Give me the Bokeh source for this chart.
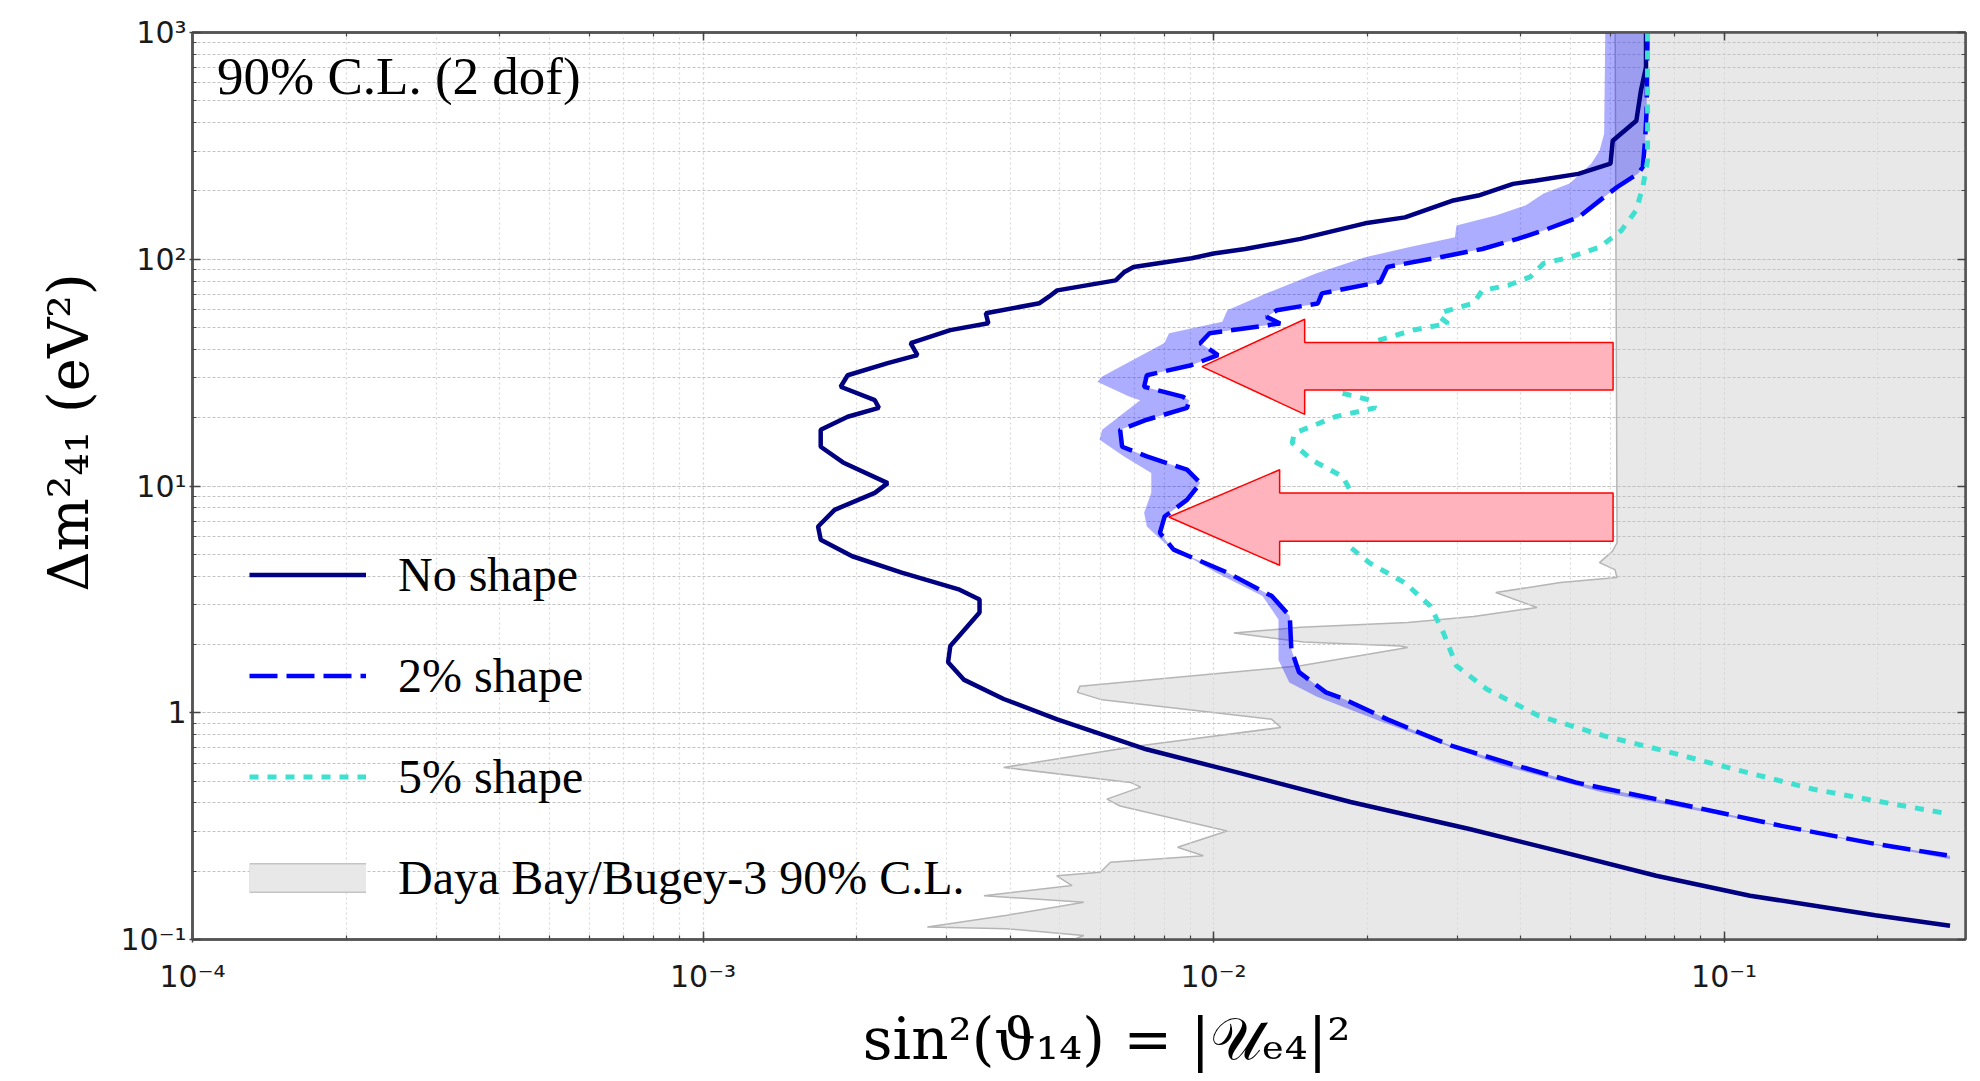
import math
from bokeh.plotting import figure
from bokeh.models import (Range1d, LogAxis, LogTicker, Legend, LegendItem, Label,
                          CustomJSTickFormatter)
from bokeh.embed import file_html
from bokeh.resources import INLINE

# ---------------- data ----------------
# "No shape" exclusion contour: sin^2(theta14) vs Delta m^2_41 [eV^2]
no_shape_x = [0.0703, 0.0703, 0.0687, 0.0673, 0.0605, 0.0599, 0.0518, 0.0426, 0.0386, 0.0330,
              0.0293, 0.0237, 0.0198, 0.0148, 0.01153, 0.0100, 0.00906, 0.00697, 0.00669, 0.00643,
              0.00494, 0.00475, 0.00456, 0.00358, 0.00362, 0.00305, 0.00255, 0.00263, 0.00230, 0.00192,
              0.00186, 0.00217, 0.00221, 0.00192, 0.00170, 0.00170, 0.00188, 0.00230, 0.00217, 0.00181,
              0.00168, 0.00170, 0.00196, 0.00245, 0.00318, 0.00348, 0.00348, 0.00305, 0.00302, 0.00324,
              0.00388, 0.00494, 0.00738, 0.01107, 0.01855, 0.0317, 0.0483, 0.0736, 0.1124, 0.1977, 0.277]
no_shape_y = [1000, 702, 553, 408, 333, 264, 238, 222, 215, 191,
              181, 153, 144, 123, 111, 106, 101, 92.5, 87.9, 80.7,
              72.9, 68.2, 64.0, 57.8, 52.2, 48.7, 42.7, 37.8, 34.8, 30.8,
              27.4, 23.9, 22.1, 20.2, 17.7, 14.9, 12.7, 10.3, 9.33, 7.85,
              6.63, 5.80, 4.90, 4.15, 3.49, 3.16, 2.77, 1.97, 1.67, 1.40,
              1.15, 0.935, 0.690, 0.547, 0.404, 0.307, 0.243, 0.191, 0.156, 0.128, 0.115]

# "2% shape" contour
shape2_x = [0.0708, 0.0705, 0.0700, 0.0693, 0.0679, 0.0617, 0.0582, 0.0518, 0.0443, 0.0394,
            0.0336, 0.0277, 0.0219, 0.0212, 0.0163, 0.0160, 0.0133, 0.0127, 0.0135, 0.00982,
            0.00942, 0.0102, 0.00904, 0.0074, 0.00731, 0.00869, 0.00896, 0.00887, 0.0074, 0.00656,
            0.00662, 0.0074, 0.00887, 0.00942, 0.00887, 0.00802, 0.00785, 0.00835, 0.01064, 0.0130,
            0.0141, 0.0142, 0.0147, 0.0166, 0.0180, 0.0219, 0.0293, 0.0394, 0.0512, 0.0849,
            0.1295, 0.1977, 0.277]
shape2_y = [1000, 452, 333, 255, 239, 208, 188, 153, 134, 123,
            111, 102, 92.5, 79.4, 70.7, 63.8, 59.6, 55.7, 52.1, 47.2,
            42.7, 37.8, 34.1, 30.8, 27.4, 24.8, 23.9, 22.1, 19.6, 17.7,
            14.9, 13.5, 11.8, 10.3, 8.69, 7.34, 6.21, 5.24, 4.15, 3.27,
            2.67, 1.90, 1.51, 1.23, 1.15, 0.935, 0.714, 0.583, 0.493, 0.389,
            0.317, 0.264, 0.234]

# left edge of the shaded band that accompanies the "2% shape" contour
band_left_x = [0.0585, 0.0582, 0.0570, 0.0549, 0.0498, 0.0443, 0.0409, 0.0357, 0.0299, 0.0297,
               0.0241, 0.0198, 0.0159, 0.0127, 0.01064, 0.0104, 0.00818, 0.00801, 0.00605, 0.00592,
               0.00683, 0.00718, 0.00605, 0.00598, 0.00668, 0.00755, 0.00755, 0.00731, 0.0074, 0.00802,
               0.0101, 0.01247, 0.0134, 0.0134, 0.01407, 0.0159, 0.0212, 0.0365, 0.0573, 0.277]
band_left_y = [1000, 358, 301, 264, 216, 195, 173, 156, 141, 125,
               113, 102, 86.7, 70.8, 59.6, 53.0, 47.2, 42.7, 30.4, 28.8,
               24.8, 23.9, 17.7, 16.0, 13.5, 11.4, 9.33, 7.62, 6.63, 5.61,
               4.15, 3.27, 2.58, 1.71, 1.36, 1.18, 0.918, 0.587, 0.447, 0.226]

# "5% shape" contour
shape5_x = [0.0708, 0.0708, 0.0693, 0.0672, 0.0629, 0.0570, 0.0498, 0.0443, 0.0417, 0.0378,
            0.0336, 0.0323, 0.0282, 0.0277, 0.0288, 0.0246, 0.0206, 0.01716, 0.01746, 0.0203,
            0.0207, 0.0173, 0.0144, 0.01425, 0.0156, 0.0179, 0.0185, 0.0181, 0.0202, 0.0237,
            0.0266, 0.0282, 0.0299, 0.0343, 0.0434, 0.0582, 0.0780, 0.1045, 0.149, 0.1977, 0.277]
shape5_y = [1000, 272, 208, 164, 134, 113, 102, 95.9, 83.6, 76.8,
            72.9, 64.0, 58.6, 55.7, 52.1, 48.7, 43.3, 31.8, 26.0, 23.9,
            22.1, 20.2, 17.1, 15.5, 13.0, 11.0, 9.60, 5.61, 4.58, 3.74,
            2.95, 2.25, 1.61, 1.27, 0.968, 0.791, 0.671, 0.564, 0.461, 0.409, 0.357]

# Daya Bay / Bugey-3 90% C.L. excluded region (left boundary, top to bottom)
bugey_x = [0.0611, 0.0617, 0.0604, 0.0570, 0.0611, 0.0617, 0.0478, 0.0357, 0.0430, 0.0323,
           0.0240, 0.0148, 0.01096, 0.0150, 0.0232, 0.0240, 0.0148, 0.00547, 0.00541, 0.00605,
           0.0130, 0.01354, 0.00711, 0.00388, 0.00687, 0.0072, 0.00618, 0.00656, 0.01063, 0.0085,
           0.00955, 0.00628, 0.0060, 0.00493, 0.00528, 0.00355, 0.00557, 0.00394, 0.00275, 0.00394,
           0.00557, 0.00501, 2.0, 2.0]
bugey_y = [2000, 5.62, 5.15, 4.59, 4.28, 3.95, 3.75, 3.39, 2.91, 2.66,
           2.50, 2.38, 2.25, 2.05, 1.97, 1.94, 1.61, 1.31, 1.23, 1.14,
           0.935, 0.861, 0.714, 0.574, 0.493, 0.470, 0.416, 0.388, 0.301, 0.255,
           0.234, 0.219, 0.198, 0.191, 0.173, 0.156, 0.146, 0.128, 0.1135, 0.1115,
           0.1042, 0.095, 0.095, 2000]

# highlight arrows (data coordinates)
arrow_tip_x = [0.00949, 0.00817]
arrow_head_x = [0.01508, 0.01347]
arrow_tail_x = [0.0606, 0.0606]
arrow_y = [33.6, 7.30]
arrow_head_top = [54.4, 11.8]
arrow_head_bottom = [20.7, 4.47]
arrow_shaft_top = [42.9, 9.31]
arrow_shaft_bottom = [26.5, 5.70]

# tick labels
x_tick_exps = [-4, -3, -2, -1]
x_tick_labels = ["10\u207b\u2074", "10\u207b\u00b3", "10\u207b\u00b2", "10\u207b\u00b9"]
y_tick_exps = [-1, 0, 1, 2, 3]
y_tick_labels = ["10\u207b\u00b9", "1", "10\u00b9", "10\u00b2", "10\u00b3"]

# ---------------- figure ----------------
p = figure(width=1970, height=1075, x_axis_type="log", y_axis_type="log",
           x_range=Range1d(1e-4, 0.297), y_range=Range1d(0.1, 1000),
           output_backend="svg", toolbar_location=None,
           min_border_left=192, min_border_right=5, min_border_top=32, min_border_bottom=134)
p.background_fill_color = "white"
p.border_fill_color = "white"
p.outline_line_color = "#555555"
p.outline_line_width = 2.5

# grids
for g, col, dash in ((p.xgrid, "#dadada", "2 3"), (p.ygrid, "#c2c2c2", "3 2")):
    g.grid_line_color = col
    g.grid_line_dash = dash
    g.grid_line_width = 1.2
    g.minor_grid_line_color = col
    g.minor_grid_line_dash = dash
    g.minor_grid_line_width = 1.2

# excluded region (below grid)
p.patch(bugey_x, bugey_y, fill_color="#e8e8e8", line_color="#b5b5b5", line_width=1.5, level="image")

# band
band_x = band_left_x + shape2_x[::-1]
band_y = band_left_y + shape2_y[::-1]
p.patch(band_x, band_y, fill_color="#0000ff", fill_alpha=0.32, line_color=None)

r_solid = p.line(no_shape_x, no_shape_y, line_color="#000080", line_width=4.5)
r_dash = p.line(shape2_x, shape2_y, line_color="#0000ff", line_width=4.5, line_dash="28 9")
r_dot = p.line(shape5_x, shape5_y, line_color="#40e0d0", line_width=5, line_dash="9 9")

# arrows
axs, ays = [], []
for i in range(len(arrow_tip_x)):
    axs.append([arrow_tip_x[i], arrow_head_x[i], arrow_head_x[i], arrow_tail_x[i],
                arrow_tail_x[i], arrow_head_x[i], arrow_head_x[i]])
    ays.append([arrow_y[i], arrow_head_top[i], arrow_shaft_top[i], arrow_shaft_top[i],
                arrow_shaft_bottom[i], arrow_shaft_bottom[i], arrow_head_bottom[i]])
p.patches(axs, ays, fill_color="#ffb3bd", line_color="#ff0000", line_width=1.5)

# legend helper renderers for the grey box (placed outside the visible range)
r_box_edge = p.line([1e-8, 2e-8], [1e-8, 1e-8], line_color="#c4c4c4", line_width=30)
r_box_fill = p.line([1e-8, 2e-8], [1e-8, 1e-8], line_color="#e8e8e8", line_width=27)

legend = Legend(items=[LegendItem(label="No shape", renderers=[r_solid]),
                       LegendItem(label="2% shape", renderers=[r_dash]),
                       LegendItem(label="5% shape", renderers=[r_dot]),
                       LegendItem(label="Daya Bay/Bugey-3 90% C.L.", renderers=[r_box_edge, r_box_fill])],
                location=(57, 11.5), glyph_width=117, glyph_height=101, spacing=0,
                padding=0, margin=0, label_standoff=32,
                label_text_font="Liberation Serif", label_text_font_size="48px",
                label_text_color="black", border_line_color=None, background_fill_alpha=0)
p.add_layout(legend)

p.add_layout(Label(x=1.117e-4, y=644, text="90% C.L. (2 dof)", text_font="Liberation Serif",
                   text_font_size="53px", text_color="black", text_baseline="alphabetic"))

# axes
fmt_code = "const e = Math.round(Math.log10(tick)); const i = exps.indexOf(e); return i >= 0 ? labels[i] : '';"
p.xaxis.formatter = CustomJSTickFormatter(args=dict(exps=x_tick_exps, labels=x_tick_labels), code=fmt_code)
p.yaxis.formatter = CustomJSTickFormatter(args=dict(exps=y_tick_exps, labels=y_tick_labels), code=fmt_code)

for ax in (p.xaxis[0], p.yaxis[0]):
    ax.axis_line_color = "#555555"
    ax.axis_line_width = 2.5
    ax.major_tick_line_color = "#444444"
    ax.major_tick_line_width = 1.5
    ax.minor_tick_line_color = "#444444"
    ax.minor_tick_line_width = 1.2
    ax.major_tick_in = 8
    ax.major_tick_out = 3
    ax.minor_tick_in = 4
    ax.minor_tick_out = 0
    ax.major_label_text_font = "DejaVu Sans"
    ax.major_label_text_font_size = "30px"
    ax.major_label_text_color = "#1a1a1a"
    ax.axis_label_text_font = "DejaVu Serif"
    ax.axis_label_text_font_style = "normal"
    ax.axis_label_text_color = "black"

p.xaxis.axis_label_text_font_size = "58px"
p.yaxis.axis_label_text_font_size = "56px"
p.xaxis.major_label_standoff = 16
p.yaxis.major_label_standoff = 3
p.xaxis.axis_label_standoff = 8
p.yaxis.axis_label_standoff = 16
NB = "\u00a0"
p.xaxis.axis_label = NB * 3 + "sin\u00b2(\u03d1\u2081\u2084) = |\U0001d4b0\u2091\u2084|\u00b2"
p.yaxis.axis_label = NB * 6 + "\u0394m\u00b2\u2084\u2081 (eV\u00b2)"

for loc in ("above", "right"):
    ax = LogAxis(ticker=LogTicker(), formatter=CustomJSTickFormatter(code="return '';"))
    ax.axis_line_color = "#555555"
    ax.axis_line_width = 2.5
    ax.major_tick_line_color = "#444444"
    ax.major_tick_line_width = 1.5
    ax.minor_tick_line_color = "#444444"
    ax.minor_tick_line_width = 1.2
    ax.major_tick_in = 8
    ax.major_tick_out = 0
    ax.minor_tick_in = 4
    ax.minor_tick_out = 0
    ax.major_label_standoff = 0
    ax.major_label_text_font_size = "1px"
    p.add_layout(ax, loc)

open("out.html", "w").write(file_html(p, INLINE))
